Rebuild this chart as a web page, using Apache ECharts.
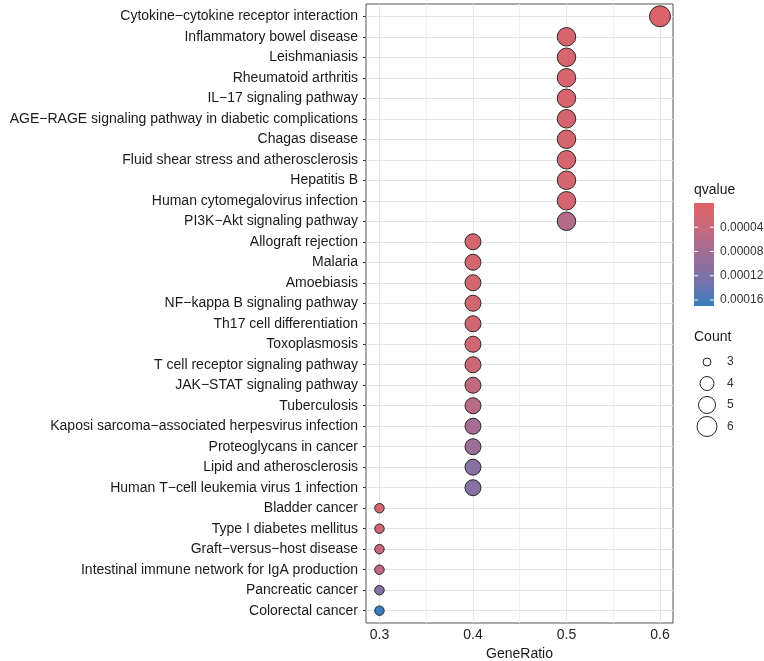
<!DOCTYPE html>
<meta charset="utf-8">
<title>KEGG dot plot</title>
<style>
body { margin: 0; background: #fff; }
#main { width: 764px; height: 661px; }
</style>
<body>
<div id="main"></div>
<script src="https://cdn.jsdelivr.net/npm/echarts@6/dist/echarts.min.js"></script>
<script>
// pathways, top to bottom
var pathways = [
  'Cytokine\u2212cytokine receptor interaction',
  'Inflammatory bowel disease',
  'Leishmaniasis',
  'Rheumatoid arthritis',
  'IL\u221217 signaling pathway',
  'AGE\u2212RAGE signaling pathway in diabetic complications',
  'Chagas disease',
  'Fluid shear stress and atherosclerosis',
  'Hepatitis B',
  'Human cytomegalovirus infection',
  'PI3K\u2212Akt signaling pathway',
  'Allograft rejection',
  'Malaria',
  'Amoebiasis',
  'NF\u2212kappa B signaling pathway',
  'Th17 cell differentiation',
  'Toxoplasmosis',
  'T cell receptor signaling pathway',
  'JAK\u2212STAT signaling pathway',
  'Tuberculosis',
  'Kaposi sarcoma\u2212associated herpesvirus infection',
  'Proteoglycans in cancer',
  'Lipid and atherosclerosis',
  'Human T\u2212cell leukemia virus 1 infection',
  'Bladder cancer',
  'Type I diabetes mellitus',
  'Graft\u2212versus\u2212host disease',
  'Intestinal immune network for IgA production',
  'Pancreatic cancer',
  'Colorectal cancer'
];
var geneRatio = [0.6, 0.5, 0.5, 0.5, 0.5, 0.5, 0.5, 0.5, 0.5, 0.5, 0.5,
  0.4, 0.4, 0.4, 0.4, 0.4, 0.4, 0.4, 0.4, 0.4, 0.4, 0.4, 0.4, 0.4,
  0.3, 0.3, 0.3, 0.3, 0.3, 0.3];
var counts = [6, 5, 5, 5, 5, 5, 5, 5, 5, 5, 5,
  4, 4, 4, 4, 4, 4, 4, 4, 4, 4, 4, 4, 4,
  3, 3, 3, 3, 3, 3];
var qvalues = [0.000012, 0.000018, 0.000018, 0.000018, 0.000018, 0.000020, 0.000020, 0.000020, 0.000020, 0.000022, 0.000062,
  0.000020, 0.000020, 0.000022, 0.000024, 0.000024, 0.000026, 0.000030, 0.000048, 0.000056, 0.000078, 0.000088, 0.000110, 0.000112,
  0.000028, 0.000030, 0.000038, 0.000048, 0.000115, 0.000170];
var xTicks = [0.3, 0.4, 0.5, 0.6];
var xGrid = [0.3, 0.35, 0.4, 0.45, 0.5, 0.55, 0.6];
var qTicks = [0.00004, 0.00008, 0.00012, 0.00016];
var countTicks = [3, 4, 5, 6];

var qMin = 0, qMax = 0.00017;
var colorStops = ['#E26263', '#C6697C', '#9E6E97', '#7872A9', '#377EBE'];
var sizeOf = { 3: 9.5, 4: 16, 5: 18.5, 6: 21 };
var legendSize = { 3: 8, 4: 14, 5: 17, 6: 20 };

var data = pathways.map(function (p, i) {
  return [geneRatio[i], i, qvalues[i], counts[i]];
});

var font = 'Liberation Sans, Arial, sans-serif';
var myChart = echarts.init(document.getElementById('main'));

// colour bar + size legend
var barX = 694, barTop = 203, barH = 103, barW = 20;
var graphics = [
  { type: 'text', left: barX, top: 183, style: { text: 'qvalue', font: '14px ' + font, fill: '#1a1a1a' } },
  { type: 'rect', shape: { x: barX, y: barTop, width: barW, height: barH },
    style: { fill: new echarts.graphic.LinearGradient(0, 0, 0, 1, colorStops.map(function (c, i) {
      return { offset: i / (colorStops.length - 1), color: c };
    })) } },
  { type: 'text', left: barX, top: 330, style: { text: 'Count', font: '14px ' + font, fill: '#1a1a1a' } }
];
qTicks.forEach(function (q) {
  var y = barTop + (q - qMin) / (qMax - qMin) * barH;
  graphics.push({ type: 'line', shape: { x1: barX, y1: y, x2: barX + 4, y2: y }, style: { stroke: '#fff', lineWidth: 1 } });
  graphics.push({ type: 'line', shape: { x1: barX + barW - 4, y1: y, x2: barX + barW, y2: y }, style: { stroke: '#fff', lineWidth: 1 } });
  graphics.push({ type: 'text', x: 720, y: y, style: { text: q.toFixed(5), font: '12px ' + font, fill: '#333', verticalAlign: 'middle' } });
});
countTicks.forEach(function (c, i) {
  var y = 362 + i * 21.5;
  graphics.push({ type: 'circle', shape: { cx: 707, cy: y, r: legendSize[c] / 2 }, style: { fill: 'none', stroke: '#222', lineWidth: 1 } });
  graphics.push({ type: 'text', x: 727, y: y, style: { text: String(c), font: '12px ' + font, fill: '#333', verticalAlign: 'middle' } });
});

var option = {
  animation: false,
  grid: {
    left: 366, right: 91, top: 4, bottom: 38,
    outerBoundsMode: 'none', containLabel: false,
    show: true, borderColor: '#555', borderWidth: 1
  },
  xAxis: {
    type: 'value',
    min: 0.2856, max: 0.6139,
    name: 'GeneRatio', nameLocation: 'middle', nameGap: 23,
    nameTextStyle: { fontFamily: font, fontSize: 14, color: '#1a1a1a' },
    axisLine: { show: false },
    axisTick: { show: true, length: 3, customValues: xTicks, lineStyle: { color: '#333' } },
    axisLabel: { customValues: xTicks, margin: 5, fontFamily: font, fontSize: 14, color: '#222',
      formatter: function (v) { return v.toFixed(1); } },
    splitLine: { show: false }
  },
  yAxis: {
    type: 'value',
    inverse: true,
    min: -0.6, max: pathways.length - 1 + 0.6,
    axisLine: { show: false },
    axisTick: { show: true, length: 3, customValues: pathways.map(function (p, i) { return i; }), lineStyle: { color: '#333' } },
    axisLabel: { customValues: pathways.map(function (p, i) { return i; }), margin: 8,
      fontFamily: font, fontSize: 14, color: '#1a1a1a',
      formatter: function (v) { return pathways[Math.round(v)]; } },
    splitLine: { show: false }
  },
  visualMap: {
    show: false, type: 'continuous', seriesIndex: 0, dimension: 2,
    min: qMin, max: qMax, inRange: { color: colorStops }
  },
  graphic: graphics,
  series: [
    {
      type: 'scatter',
      z: 5,
      data: data,
      symbolSize: function (d) { return sizeOf[d[3]]; },
      itemStyle: { borderColor: '#1a1a1a', borderWidth: 0.9, opacity: 1 }
    },
    {
      type: 'scatter',
      z: 1,
      data: [],
      markLine: {
        silent: true, symbol: 'none', label: { show: false },
        data: xGrid.map(function (v) {
          return { xAxis: v, lineStyle: { color: (Math.round(v * 100) % 10 === 0) ? '#E5E5E5' : '#F2F2F2', width: 1, type: 'solid' } };
        }).concat(pathways.map(function (p, i) {
          return { yAxis: i, lineStyle: { color: '#E5E5E5', width: 1, type: 'solid' } };
        }))
      }
    }
  ]
};
myChart.setOption(option);
</script>
</body>
